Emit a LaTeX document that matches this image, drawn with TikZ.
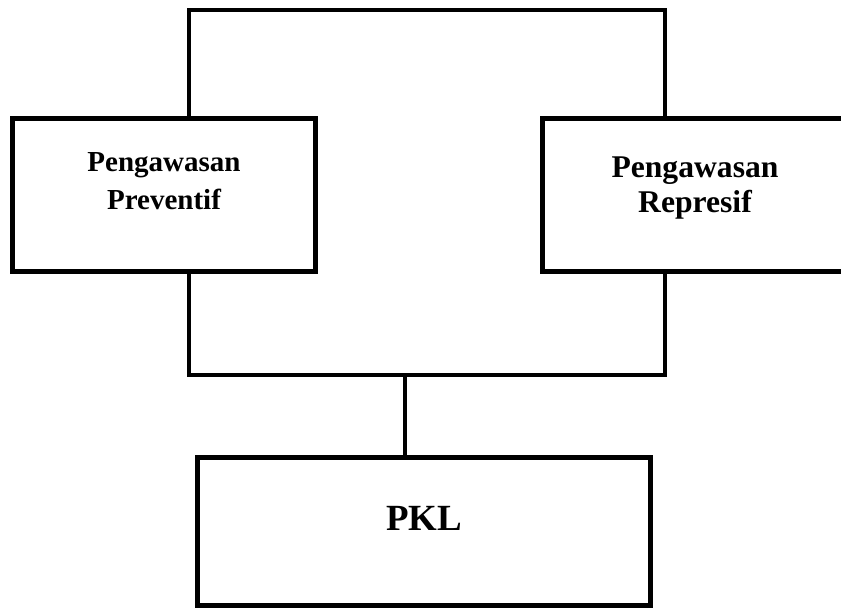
\documentclass[tikz,border=0pt]{standalone}
\usepackage{fontspec}
\setmainfont{Liberation Serif}
\usetikzlibrary{positioning, calc}
\tikzset{
  box/.style={rectangle, draw=black, line width=0.1cm, minimum height=3.08cm},
  boxtext/.style={align=center, font=\bfseries, inner sep=0pt},
  conn/.style={draw=black, line width=0.08cm},
}

\begin{document}
\begin{tikzpicture}[x=0.02cm, y=-0.02cm]
  \useasboundingbox (0,0) rectangle (841,608);
  \clip (0,0) rectangle (841,608);

  % boxes
  \node[box, minimum width=6.08cm] (prev) at (164,195) {};
  \node[box, minimum width=6.12cm] (repr) at (695,195) {};
  \node[box, minimum width=9.08cm, minimum height=2.98cm] (pkl) at (424,531.5) {};

  \node[boxtext, font=\fontsize{16.5}{22}\selectfont\bfseries] (prevt)
    at ([yshift=0.28cm]prev.center) {Pengawasan\\Preventif};
  \node[boxtext, font=\fontsize{18}{20}\selectfont\bfseries] (reprt)
    at ([yshift=0.14cm]repr.center) {Pengawasan\\Represif};
  \node[boxtext, font=\fontsize{21}{25}\selectfont\bfseries] (pklt)
    at ([yshift=0.26cm]pkl.center) {PKL};

  % frame round the two kinds
  \coordinate (tl) at (189,10);
  \coordinate (tr) at (665,10);
  \coordinate (bl) at (189,375);
  \coordinate (br) at (665,375);
  \coordinate (mid) at (405,375);

  \draw[conn] (prev.north -| tl) -- (tl) -- (tr) -- (repr.north -| tr);
  \draw[conn] (prev.south -| bl) -- (bl) -- (br) -- (repr.south -| br);
  \draw[conn] (mid) -- (pkl.north -| mid);
\end{tikzpicture}
\end{document}
